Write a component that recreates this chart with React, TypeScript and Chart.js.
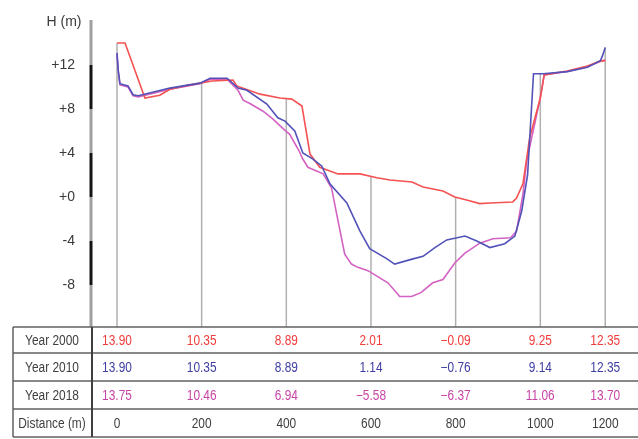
import React, { useEffect, useRef } from "react";
import { Chart, registerables, LinearScale } from "chart.js";

// ---------- data ----------
const dist2000 = [0, 19, 66, 101, 125, 160, 196, 224, 274, 283, 338, 385, 413, 437, 456, 479, 522, 574, 614, 645, 697, 723, 770, 798, 826, 857, 881, 935, 944, 959, 975, 1000, 1012, 1083, 1145, 1185, 1200];
const h2000 = [14.0, 14.0, 9.0, 9.25, 9.8, 10.1, 10.35, 10.55, 10.64, 10.1, 9.35, 9.0, 8.9, 8.27, 3.9, 2.7, 2.1, 2.1, 1.75, 1.55, 1.36, 0.9, 0.55, 0.0, -0.27, -0.6, -0.55, -0.45, -0.1, 1.2, 5.4, 9.0, 11.1, 11.45, 11.9, 12.35, 12.4];

const dist2010 = [0, 3, 7, 26, 38, 50, 125, 196, 220, 260, 286, 307, 354, 380, 397, 420, 439, 463, 484, 503, 543, 574, 597, 637, 656, 697, 723, 751, 779, 822, 850, 881, 916, 940, 956, 970, 984, 1009, 1083, 1145, 1185, 1191, 1200];
const h2010 = [13.1, 11.5, 10.3, 10.1, 9.3, 9.2, 9.9, 10.35, 10.8, 10.8, 9.9, 9.7, 8.45, 7.2, 6.9, 6.0, 4.0, 3.45, 2.8, 1.2, -0.55, -3.1, -4.7, -5.6, -6.1, -5.65, -5.4, -4.6, -3.9, -3.55, -4.0, -4.6, -4.25, -3.55, -1.3, 2.0, 11.2, 11.2, 11.4, 11.8, 12.4, 12.8, 13.6];

const dist2018 = [0, 3, 7, 26, 38, 50, 125, 196, 220, 260, 286, 298, 314, 345, 368, 393, 408, 430, 439, 451, 487, 507, 519, 538, 554, 569, 593, 640, 668, 696, 718, 746, 770, 798, 822, 857, 888, 930, 944, 959, 968, 1000, 1012, 1083, 1145, 1185, 1200];
const h2018 = [13.0, 11.4, 10.2, 10.0, 9.2, 9.1, 9.8, 10.3, 10.7, 10.7, 9.7, 8.8, 8.5, 7.8, 7.1, 6.2, 5.7, 4.2, 3.45, 2.7, 2.1, 0.8, -1.55, -5.2, -6.1, -6.4, -6.7, -7.8, -9.05, -9.05, -8.7, -7.8, -7.5, -6.0, -5.1, -4.2, -3.8, -3.7, -3.1, 0.25, 3.3, 9.0, 11.1, 11.4, 11.85, 12.35, 12.45];

const yTicks = [-8, -4, 0, 4, 8, 12];
const distanceTicks = [0, 200, 400, 600, 800, 1000, 1200];
const table2000 = [13.9, 10.35, 8.89, 2.01, -0.09, 9.25, 12.35];
const table2010 = [13.9, 10.35, 8.89, 1.14, -0.76, 9.14, 12.35];
const table2018 = [13.75, 10.46, 6.94, -5.58, -6.37, 11.06, 13.7];
const rowLabels = ["Year 2000", "Year 2010", "Year 2018", "Distance (m)"];

// ---------- styling ----------
const RED = "#f55252";
const BLUE = "#5252b8";
const MAG = "#d462c2";
const RED_T = "#f03c3c";
const BLUE_T = "#3e3ea2";
const MAG_T = "#c844a4";

// Distance axis is compressed beyond 1000 m in the original drawing
const BREAK = 1000;
const FACTOR = 65 / 84.7;
const warp = (v: number) => (v <= BREAK ? v : BREAK + (v - BREAK) * FACTOR);
const unwarp = (w: number) => (w <= BREAK ? w : BREAK + (w - BREAK) / FACTOR);

class ProfileScale extends LinearScale {
  static id = "profile";
  static defaults = (LinearScale as any).defaults;
  getPixelForValue(value: number) {
    if (value === null || value === undefined) return NaN;
    const s = this as any;
    const a = warp(s.min);
    const b = warp(s.max);
    return s.getPixelForDecimal((warp(value) - a) / (b - a));
  }
  getValueForPixel(pixel: number) {
    const s = this as any;
    const a = warp(s.min);
    const b = warp(s.max);
    return unwarp(a + s.getDecimalForPixel(pixel) * (b - a));
  }
}

Chart.register(...registerables, ProfileScale as any);

function interp(xs: number[], ys: number[], d: number) {
  if (d <= xs[0]) return ys[0];
  for (let i = 1; i < xs.length; i++) {
    if (d <= xs[i]) {
      const t = (d - xs[i - 1]) / (xs[i] - xs[i - 1]);
      return ys[i - 1] + t * (ys[i] - ys[i - 1]);
    }
  }
  return ys[ys.length - 1];
}

const fmt = (v: number) => (v < 0 ? "\u2212" + Math.abs(v).toFixed(2) : v.toFixed(2));

function drawNarrow(ctx: CanvasRenderingContext2D, text: string, cx: number, cy: number, color: string, sx = 0.85) {
  ctx.save();
  ctx.translate(cx, cy);
  ctx.scale(sx, 1);
  ctx.fillStyle = color;
  ctx.font = "14px 'Liberation Sans', Arial, sans-serif";
  ctx.textAlign = "center";
  ctx.textBaseline = "middle";
  ctx.fillText(text, 0, 0);
  ctx.restore();
}

const decorPlugin = {
  id: "profileDecor",
  beforeDatasetsDraw(chart: any) {
    const { ctx, chartArea, scales } = chart;
    const x = scales.x;
    const y = scales.y;
    ctx.save();
    ctx.strokeStyle = "#b0b0b0";
    ctx.lineWidth = 1.5;
    distanceTicks.forEach((d) => {
      const px = x.getPixelForValue(d);
      const top = Math.max(interp(dist2000, h2000, d), interp(dist2010, h2010, d), interp(dist2018, h2018, d));
      ctx.beginPath();
      ctx.moveTo(px, y.getPixelForValue(top));
      ctx.lineTo(px, chartArea.bottom);
      ctx.stroke();
    });
    ctx.restore();
  },
  afterDraw(chart: any) {
    const { ctx, chartArea, scales } = chart;
    const x = scales.x;
    const y = scales.y;
    ctx.save();
    // axis with alternating bands
    const bounds = [y.max, 12, 8, 4, 0, -4, -8, y.min];
    for (let i = 0; i < bounds.length - 1; i++) {
      ctx.fillStyle = i % 2 === 0 ? "#a0a0a0" : "#141414";
      const y0 = y.getPixelForValue(bounds[i]);
      const y1 = y.getPixelForValue(bounds[i + 1]);
      ctx.fillRect(chartArea.left - 1.5, y0, 3, y1 - y0);
    }
    // H (m)
    ctx.fillStyle = "#3a3a3a";
    ctx.font = "14px 'Liberation Sans', Arial, sans-serif";
    ctx.textAlign = "center";
    ctx.textBaseline = "middle";
    ctx.fillText("H (m)", 64, 22);

    // table
    const top = chartArea.bottom;
    const rows = [top, top + 26, top + 54, top + 82, top + 110];
    const left = 13;
    const right = 640;
    const divX = 92;
    ctx.strokeStyle = "#606060";
    ctx.lineWidth = 1.5;
    rows.forEach((ry) => {
      ctx.beginPath();
      ctx.moveTo(left, ry);
      ctx.lineTo(right, ry);
      ctx.stroke();
    });
    ctx.beginPath();
    ctx.moveTo(left, rows[0]);
    ctx.lineTo(left, rows[4]);
    ctx.stroke();
    ctx.beginPath();
    ctx.lineWidth = 2;
    ctx.strokeStyle = "#404040";
    ctx.moveTo(divX, rows[0]);
    ctx.lineTo(divX, rows[4]);
    ctx.stroke();

    const mids = [0, 1, 2, 3].map((i) => (rows[i] + rows[i + 1]) / 2 + 1);
    rowLabels.forEach((lab, i) => drawNarrow(ctx, lab, 52, mids[i], "#404040"));
    distanceTicks.forEach((d, j) => {
      const px = x.getPixelForValue(d);
      drawNarrow(ctx, fmt(table2000[j]), px, mids[0], RED_T);
      drawNarrow(ctx, fmt(table2010[j]), px, mids[1], BLUE_T);
      drawNarrow(ctx, fmt(table2018[j]), px, mids[2], MAG_T);
      drawNarrow(ctx, String(d), px, mids[3], "#404040");
    });
    ctx.restore();
  },
};

const toPoints = (xs: number[], ys: number[]) => xs.map((d, i) => ({ x: d, y: ys[i] }));

export default function App() {
  const ref = useRef<HTMLCanvasElement | null>(null);
  useEffect(() => {
    if (!ref.current) return;
    const chart = new Chart(ref.current, {
      type: "line",
      data: {
        datasets: [
          { label: "Year 2000", data: toPoints(dist2000, h2000), borderColor: RED, borderWidth: 1.6, pointRadius: 0, tension: 0, order: 1 },
          { label: "Year 2010", data: toPoints(dist2010, h2010), borderColor: BLUE, borderWidth: 1.6, pointRadius: 0, tension: 0, order: 0 },
          { label: "Year 2018", data: toPoints(dist2018, h2018), borderColor: MAG, borderWidth: 1.6, pointRadius: 0, tension: 0, order: 2 },
        ],
      },
      options: {
        animation: false,
        responsive: false,
        devicePixelRatio: 1,
        layout: { padding: { left: 0, top: 20, right: 23, bottom: 112 } },
        plugins: { legend: { display: false }, tooltip: { enabled: false } },
        scales: {
          x: {
            type: "profile" as any,
            min: -61.4,
            max: unwarp(1176.5),
            display: false,
          },
          y: {
            type: "linear",
            min: -11.82,
            max: 16.09,
            grid: { display: false },
            border: { display: false },
            afterBuildTicks: (scale: any) => {
              scale.ticks = yTicks.map((v) => ({ value: v }));
            },
            afterFit: (scale: any) => {
              scale.width = 91;
            },
            ticks: {
              autoSkip: false,
              padding: 8,
              color: "#3a3a3a",
              font: { family: "'Liberation Sans', Arial, sans-serif", size: 14 },
              callback: (v: any) => (v > 0 ? "+" + v : v === 0 ? "+0" : String(v)),
            },
          },
        },
      } as any,
      plugins: [decorPlugin],
    });
    return () => chart.destroy();
  }, []);
  return (
    <div style={{ position: "fixed", left: 0, top: 0, width: 638, height: 439, background: "#fff" }}>
      <canvas ref={ref} width={638} height={439} style={{ display: "block" }} />
    </div>
  );
}
